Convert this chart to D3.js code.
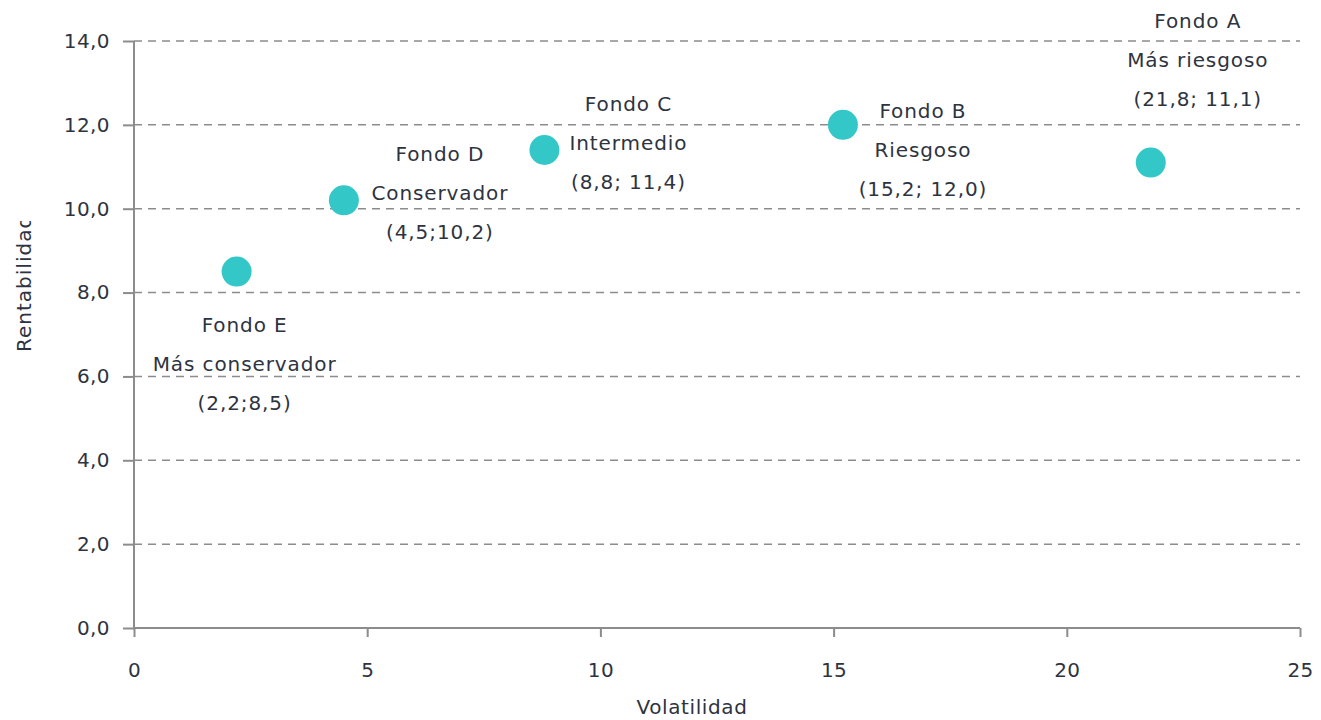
<!DOCTYPE html>
<html>
<head>
<meta charset="utf-8">
<script src="https://cdn.jsdelivr.net/npm/d3@7"></script>
<style>
  html, body { margin: 0; padding: 0; background: #fff; }
  svg { display: block; }
</style>
</head>
<body>
<svg id="chart" width="1321" height="720"></svg>
<script>
// ---- Data ----
const fundNames = ["Fondo A", "Fondo B", "Fondo C", "Fondo D", "Fondo E"];
const fundProfiles = ["Más riesgoso", "Riesgoso", "Intermedio", "Conservador", "Más conservador"];
const fundCoords = ["(21,8; 11,1)", "(15,2; 12,0)", "(8,8; 11,4)", "(4,5;10,2)", "(2,2;8,5)"];
const volatility = [21.8, 15.2, 8.8, 4.5, 2.2];
const returns = [11.1, 12.0, 11.4, 10.2, 8.5];
const xTicks = [0, 5, 10, 15, 20, 25];
const yTicks = [0, 2, 4, 6, 8, 10, 12, 14];
const xTitle = "Volatilidad";
const yTitle = "Rentabilidad";

// ---- Layout (label placement relative to each point, in px) ----
const labelLayout = [
  { dx: 47, dy: -140 },
  { dx: 80, dy: -12 },
  { dx: 84, dy: -45 },
  { dx: 96, dy: -45 },
  { dx: 8, dy: 55 }
];
const lineGap = 39;

const svg = d3.select("#chart");
const mLeft = 134, mRight = 1300, mTop = 41, mBottom = 628;
const x = d3.scaleLinear().domain([0, 25]).range([mLeft, mRight]);
const y = d3.scaleLinear().domain([0, 14]).range([mBottom, mTop]);

const fontFam = "'DejaVu Sans', sans-serif";
const textColor = "#2e3340";
const axisColor = "#8c8c8c";

// gridlines
svg.append("g").selectAll("line").data(yTicks.filter(d => d > 0)).join("line")
  .attr("x1", mLeft).attr("x2", mRight)
  .attr("y1", d => y(d)).attr("y2", d => y(d))
  .attr("stroke", axisColor).attr("stroke-width", 1.5)
  .attr("stroke-dasharray", "8,6");

// y axis
const yAxis = svg.append("g").attr("transform", `translate(${mLeft},0)`)
  .call(d3.axisLeft(y).tickValues(yTicks).tickSize(11).tickPadding(13)
    .tickFormat(d => d3.format(".1f")(d).replace(".", ",")));
// x axis
const xAxis = svg.append("g").attr("transform", `translate(0,${mBottom})`)
  .call(d3.axisBottom(x).tickValues(xTicks).tickSize(9).tickPadding(26));

[yAxis, xAxis].forEach(g => {
  g.select(".domain").attr("stroke", axisColor).attr("stroke-width", 2);
  g.selectAll(".tick line").attr("stroke", axisColor).attr("stroke-width", 2);
  g.selectAll(".tick text").attr("fill", textColor)
    .style("font-family", fontFam).style("font-size", "20px").style("letter-spacing", "0.4px");
});
xAxis.select(".domain").attr("d", `M${mLeft},0H${mRight}`);
yAxis.select(".domain").attr("d", `M0,${mBottom}V${mTop}`);

// axis titles
svg.append("text")
  .attr("x", 692).attr("y", 708)
  .attr("text-anchor", "middle").attr("dominant-baseline", "middle")
  .attr("fill", textColor).style("font-family", fontFam).style("font-size", "20px")
  .style("letter-spacing", "0.6px")
  .text(xTitle);

svg.append("clipPath").attr("id", "yclip")
  .append("rect").attr("x", 0).attr("y", 221).attr("width", 60).attr("height", 200);
svg.append("g").attr("clip-path", "url(#yclip)")
  .append("text")
  .attr("transform", "translate(25,352) rotate(-90)")
  .attr("text-anchor", "start").attr("dominant-baseline", "middle")
  .attr("fill", textColor).style("font-family", fontFam).style("font-size", "20px")
  .style("letter-spacing", "1px")
  .text(yTitle);

// points
const pts = fundNames.map((n, i) => ({ n, p: fundProfiles[i], c: fundCoords[i], vx: volatility[i], vy: returns[i], l: labelLayout[i] }));
svg.append("g").selectAll("circle").data(pts).join("circle")
  .attr("cx", d => x(d.vx)).attr("cy", d => y(d.vy)).attr("r", 15)
  .attr("fill", "#33c7c8");

// labels
const lg = svg.append("g").selectAll("g").data(pts).join("g")
  .attr("transform", d => `translate(${x(d.vx) + d.l.dx},${y(d.vy) + d.l.dy})`);
lg.each(function(d) {
  const g = d3.select(this);
  [d.n, d.p, d.c].forEach((t, k) => {
    g.append("text").attr("x", 0).attr("y", k * lineGap)
      .attr("text-anchor", "middle").attr("dominant-baseline", "middle")
      .attr("fill", textColor).style("font-family", fontFam).style("font-size", "20px")
      .style("letter-spacing", "0.9px")
      .text(t);
  });
});
</script>
</body>
</html>
